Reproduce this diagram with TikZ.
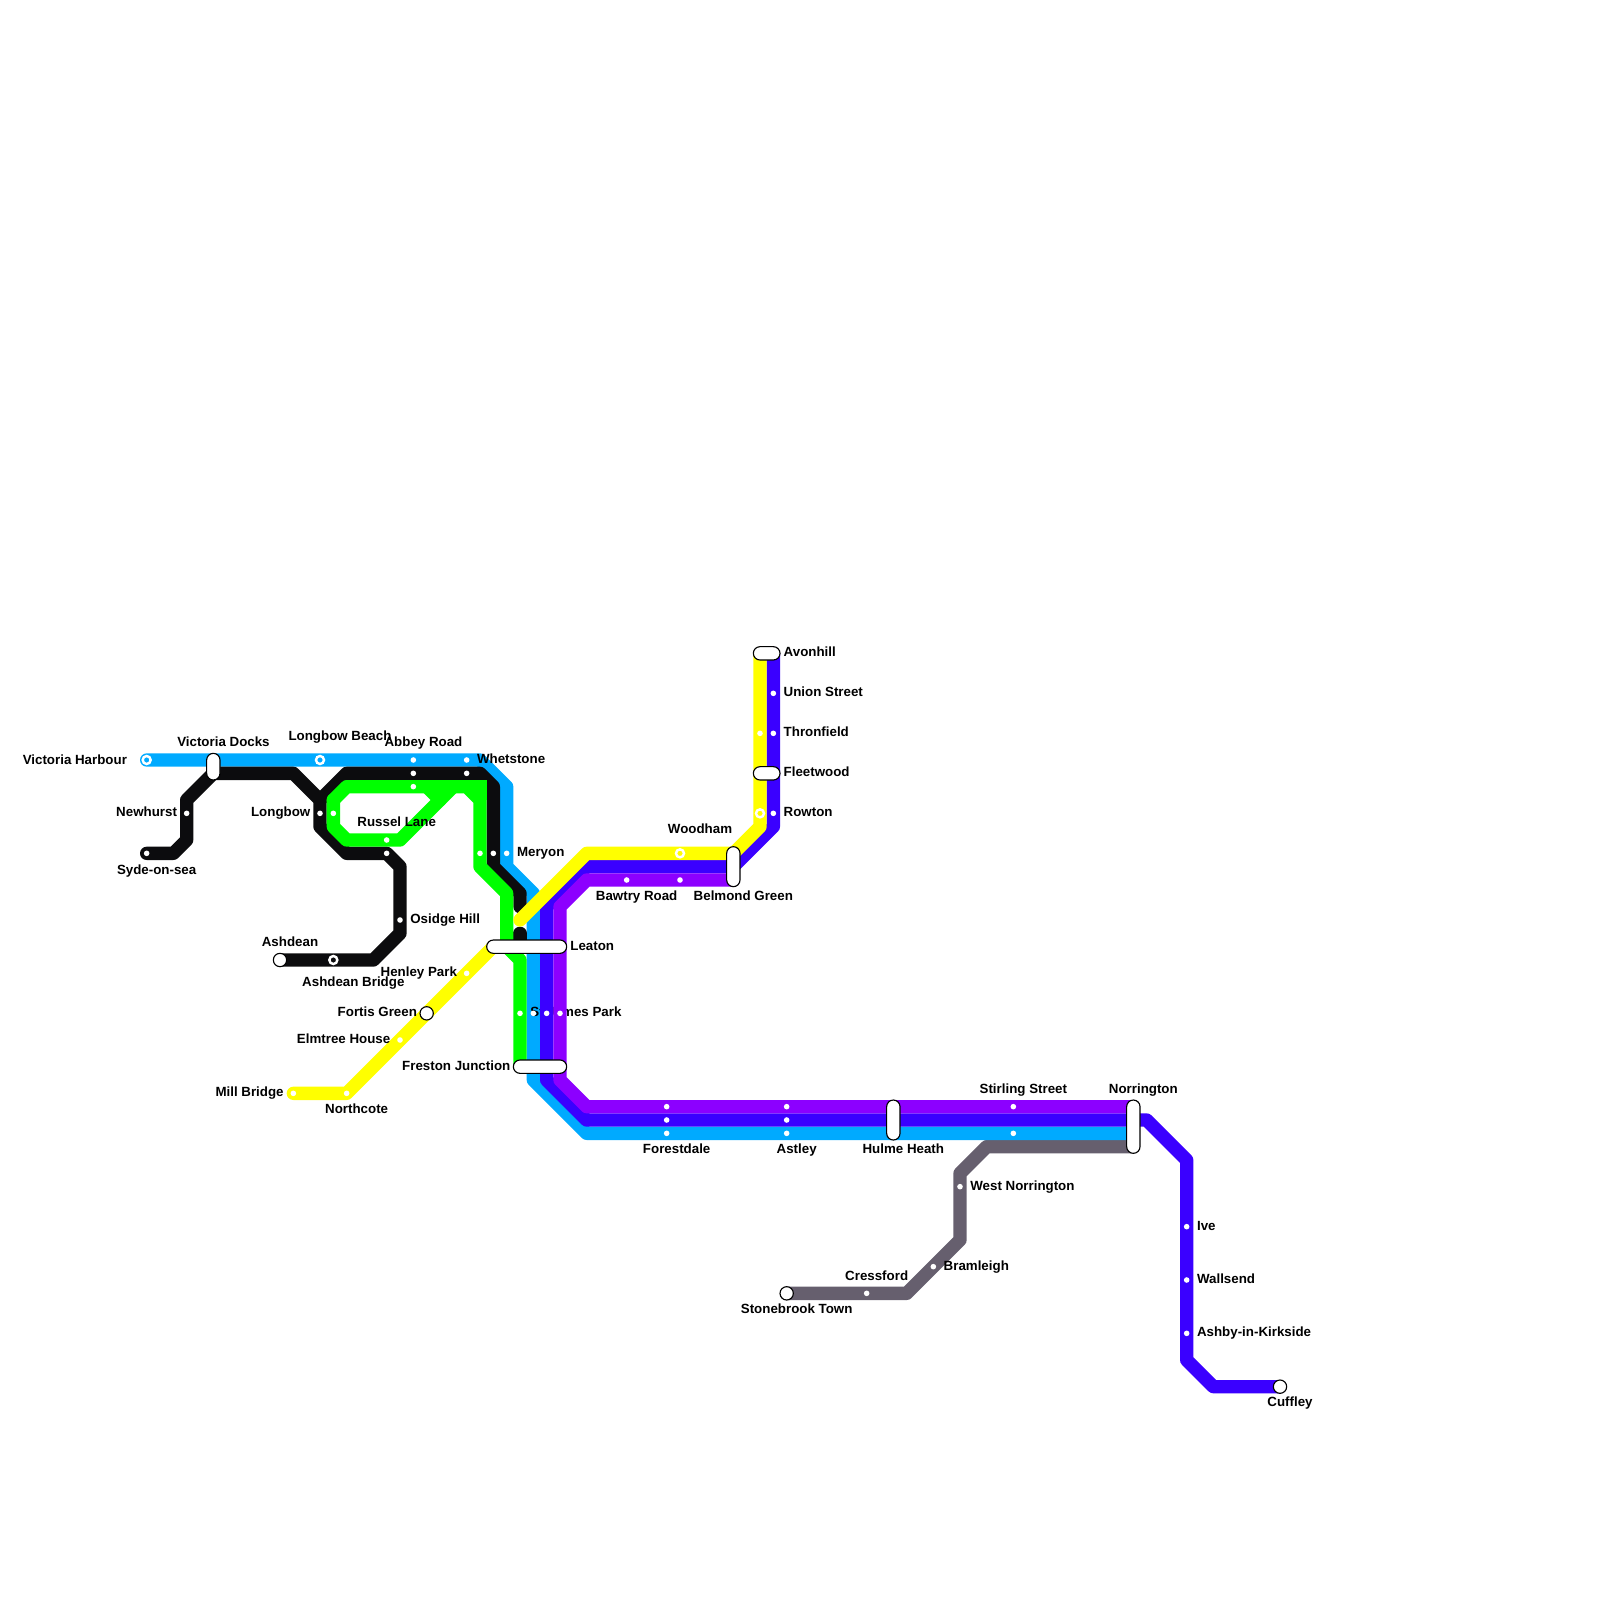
\documentclass[tikz,border=0pt]{standalone}
\usepackage{fontspec}
\setmainfont{Liberation Sans}
\usetikzlibrary{shapes.misc}
\definecolor{cyanLine}{HTML}{00AAFF}
\definecolor{indigoLine}{HTML}{3A00FF}
\definecolor{purpleLine}{HTML}{8C00FF}
\definecolor{greenLine}{HTML}{00FF00}
\definecolor{yellowLine}{HTML}{FFFF00}
\definecolor{blackLine}{HTML}{0C0C0E}
\definecolor{greyLine}{HTML}{665F6E}
\begin{document}
\begin{tikzpicture}[
    x=0.25cm, y=-0.25cm,
    metroLine/.style={line width=0.25cm, line join=round, line cap=round},
    stnDot/.style={circle, fill=white, inner sep=0pt, minimum size=0.105cm},
    stnRing/.style={circle, draw=white, line width=1.3pt, inner sep=0pt, outer sep=0pt, minimum size=0.15cm},
    stnEnd/.style={circle, draw=black, fill=white, line width=0.6pt, inner sep=0pt, outer sep=0pt, minimum size=0.25cm},
    stnCapsule/.style={rounded rectangle, draw=black, fill=white, line width=0.6pt, inner sep=0pt, outer sep=0pt, minimum height=0.25cm},
    stnName/.style={font=\fontsize{7.11pt}{8.5pt}\selectfont\bfseries, text=black, inner sep=0pt},
    nameLeft/.style={stnName, anchor=base east},
    nameRight/.style={stnName, anchor=base west},
    nameMid/.style={stnName, anchor=base},
]
\useasboundingbox (0,0) rectangle (120,120);
% Line ends and junctions
\coordinate (victoriaHarbour) at (11,57);
\coordinate (sydeOnSea) at (11,64);
\coordinate (ashdean) at (21,72);
\coordinate (longbowFork) at (24,60);
\coordinate (greenFork) at (25,60);
\coordinate (greenMeet) at (34,59);
\coordinate (greenKnee) at (33,60);
\coordinate (millBridge) at (22,82);
\coordinate (leatonWest) at (37,71);
\coordinate (blackStub) at (39,70);
\coordinate (blackStop) at (39,68);
\coordinate (yellowStop) at (39,69);
\coordinate (frestonWest) at (39,80);
\coordinate (stonebrook) at (59,97);
\coordinate (avonhill) at (57,49);
\coordinate (avonhillEast) at (58,49);
\coordinate (cuffley) at (96,104);
\coordinate (norrington) at (85,86);
\coordinate (purpleEnd) at (55,66);

% Lines
\draw[metroLine, greyLine] (stonebrook) -- (68,97) -- (72,93) -- (72,88) -- (74,86) -- (norrington);
\draw[metroLine, cyanLine] (victoriaHarbour) -- (36,57) -- (38,59) -- (38,65) -- (40,67) -- (40,81) -- (44,85) -- (85,85);
\node[nameRight] (stJamesPark) at (39.75,76.25) {St James Park};
\draw[metroLine, indigoLine] (avonhillEast) -- (58,62) -- (55,65) -- (44,65) -- (41,68) -- (41,81) -- (44,84) -- (86,84) -- (89,87) -- (89,102) -- (91,104) -- (cuffley);
\draw[metroLine, purpleLine] (purpleEnd) -- (44,66) -- (42,68) -- (42,81) -- (44,83) -- (85,83);
\draw[metroLine, blackLine] (sydeOnSea) -- (13,64) -- (14,63) -- (14,60) -- (16,58) -- (22,58) -- (longbowFork) -- (24,62) -- (26,64) -- (29,64) -- (30,65) -- (30,70) -- (28,72) -- (ashdean);
\draw[metroLine, blackLine] (longbowFork) -- (26,58) -- (36,58) -- (37,59) -- (37,65) -- (39,67) -- (blackStop);
\draw[metroLine, blackLine] (blackStub) -- (39,71);
\draw[metroLine, greenLine] (greenFork) -- (26,59) -- (35,59) -- (36,60) -- (36,65) -- (38,67) -- (38,71) -- (39,72) -- (frestonWest);
\draw[greenLine, line width=0.25cm] (35,59) -- (36,59) -- (36,60);
\draw[metroLine, greenLine] (greenFork) -- (25,62) -- (26,63) -- (30,63) -- (greenMeet);
\draw[metroLine, greenLine] (32,59) -- (greenKnee);
\draw[metroLine, yellowLine] (avonhill) -- (57,62) -- (55,64) -- (44,64) -- (yellowStop);
\draw[metroLine, yellowLine] (leatonWest) -- (26,82) -- (millBridge);

% Stops
\node[stnRing] (harbourRing) at (victoriaHarbour) {};
\node[stnRing] (beachRing) at (24,57) {};
\node[stnDot] (abbeyCyan) at (31,57) {};
\node[stnDot] (abbeyBlack) at (31,58) {};
\node[stnDot] (abbeyGreen) at (31,59) {};
\node[stnDot] (whetstoneCyan) at (35,57) {};
\node[stnDot] (whetstoneBlack) at (35,58) {};
\node[stnDot] (newhurstDot) at (14,61) {};
\node[stnDot] (sydeDot) at (sydeOnSea) {};
\node[stnDot] (longbowBlack) at (24,61) {};
\node[stnDot] (longbowGreen) at (25,61) {};
\node[stnDot] (russelGreen) at (29,63) {};
\node[stnDot] (russelBlack) at (29,64) {};
\node[stnDot] (meryonGreen) at (36,64) {};
\node[stnDot] (meryonBlack) at (37,64) {};
\node[stnDot] (meryonCyan) at (38,64) {};
\node[stnDot] (osidgeDot) at (30,69) {};
\node[stnRing] (bridgeRing) at (25,72) {};
\node[stnDot] (henleyDot) at (35,73) {};
\node[stnDot] (elmtreeDot) at (30,78) {};
\node[stnDot] (northcoteDot) at (26,82) {};
\node[stnDot] (millDot) at (millBridge) {};
\node[stnDot] (jamesGreen) at (39,76) {};
\node[stnDot] (jamesCyan) at (40,76) {};
\node[stnDot] (jamesIndigo) at (41,76) {};
\node[stnDot] (jamesPurple) at (42,76) {};
\node[stnDot] (bawtryDot) at (47,66) {};
\node[stnDot] (belmondDot) at (51,66) {};
\node[stnRing] (woodhamRing) at (51,64) {};
\node[stnDot] (unionDot) at (58,52) {};
\node[stnDot] (thronYellow) at (57,55) {};
\node[stnDot] (thronIndigo) at (58,55) {};
\node[stnRing] (rowtonRing) at (57,61) {};
\node[stnDot] (rowtonDot) at (58,61) {};
\node[stnDot] (forestPurple) at (50,83) {};
\node[stnDot] (forestIndigo) at (50,84) {};
\node[stnDot] (forestCyan) at (50,85) {};
\node[stnDot] (astleyPurple) at (59,83) {};
\node[stnDot] (astleyIndigo) at (59,84) {};
\node[stnDot] (astleyCyan) at (59,85) {};
\node[stnDot] (stirlingPurple) at (76,83) {};
\node[stnDot] (stirlingCyan) at (76,85) {};
\node[stnDot] (westNorrDot) at (72,89) {};
\node[stnDot] (bramleighDot) at (70,95) {};
\node[stnDot] (cressfordDot) at (65,97) {};
\node[stnDot] (iveDot) at (89,92) {};
\node[stnDot] (wallsendDot) at (89,96) {};
\node[stnDot] (ashbyDot) at (89,100) {};

% Interchanges
\node[stnEnd] (ashdeanEnd) at (ashdean) {};
\node[stnEnd] (fortisEnd) at (32,76) {};
\node[stnEnd] (stonebrookEnd) at (stonebrook) {};
\node[stnEnd] (cuffleyEnd) at (cuffley) {};
\node[stnCapsule, minimum width=0.5cm, rotate=90] (docksCap) at (16,57.5) {};
\node[stnCapsule, minimum width=1.5cm] (leatonCap) at (39.5,71) {};
\node[stnCapsule, minimum width=1cm] (frestonCap) at (40.5,80) {};
\node[stnCapsule, minimum width=0.5cm] (avonhillCap) at (57.5,49) {};
\node[stnCapsule, minimum width=0.5cm] (fleetwoodCap) at (57.5,58) {};
\node[stnCapsule, minimum width=0.75cm, rotate=90] (belmondCap) at (55,65) {};
\node[stnCapsule, minimum width=0.75cm, rotate=90] (hulmeCap) at (67,84) {};
\node[stnCapsule, minimum width=1cm, rotate=90] (norringtonCap) at (85,84.5) {};

% Names
\node[nameLeft] (harbourName) at (9.55,57.3) {Victoria Harbour};
\node[nameLeft] (newhurstName) at (13.3,61.25) {Newhurst};
\node[nameLeft] (longbowName) at (23.3,61.25) {Longbow};
\node[nameLeft] (henleyName) at (34.3,73.25) {Henley Park};
\node[nameLeft] (fortisName) at (31.3,76.25) {Fortis Green};
\node[nameLeft] (elmtreeName) at (29.3,78.25) {Elmtree House};
\node[nameLeft] (millName) at (21.3,82.25) {Mill Bridge};
\node[nameLeft] (frestonName) at (38.3,80.25) {Freston Junction};

\node[nameRight] (avonhillName) at (58.75,49.25) {Avonhill};
\node[nameRight] (unionName) at (58.75,52.25) {Union Street};
\node[nameRight] (thronName) at (58.75,55.25) {Thronfield};
\node[nameRight] (fleetwoodName) at (58.75,58.25) {Fleetwood};
\node[nameRight] (rowtonName) at (58.75,61.25) {Rowton};
\node[nameRight] (whetstoneName) at (35.75,57.25) {Whetstone};
\node[nameRight] (meryonName) at (38.75,64.25) {Meryon};
\node[nameRight] (osidgeName) at (30.75,69.25) {Osidge Hill};
\node[nameRight] (leatonName) at (42.75,71.25) {Leaton};
\node[nameRight] (westNorrName) at (72.75,89.25) {West Norrington};
\node[nameRight] (bramleighName) at (70.75,95.25) {Bramleigh};
\node[nameRight] (iveName) at (89.75,92.25) {Ive};
\node[nameRight] (wallsendName) at (89.75,96.25) {Wallsend};
\node[nameRight] (ashbyName) at (89.75,100.25) {Ashby-in-Kirkside};

\node[nameMid] (docksName) at (16.76,56) {Victoria Docks};
\node[nameMid] (beachName) at (25.5,55.5) {Longbow Beach};
\node[nameMid] (abbeyName) at (31.76,56) {Abbey Road};
\node[nameMid] (russelName) at (29.75,62) {Russel Lane};
\node[nameMid] (sydeName) at (11.75,65.55) {Syde-on-sea};
\node[nameMid] (ashdeanName) at (21.75,71) {Ashdean};
\node[nameMid] (bridgeName) at (26.5,74) {Ashdean Bridge};
\node[nameMid] (woodhamName) at (52.5,62.5) {Woodham};
\node[nameMid] (bawtryName) at (47.75,67.5) {Bawtry Road};
\node[nameMid] (belmondName) at (55.75,67.5) {Belmond Green};
\node[nameMid] (northcoteName) at (26.75,83.5) {Northcote};
\node[nameMid] (forestName) at (50.75,86.5) {Forestdale};
\node[nameMid] (astleyName) at (59.75,86.5) {Astley};
\node[nameMid] (hulmeName) at (67.75,86.5) {Hulme Heath};
\node[nameMid] (stirlingName) at (76.75,82) {Stirling Street};
\node[nameMid] (norringtonName) at (85.75,82) {Norrington};
\node[nameMid] (cressfordName) at (65.75,96) {Cressford};
\node[nameMid] (stonebrookName) at (59.75,98.5) {Stonebrook Town};
\node[nameMid] (cuffleyName) at (96.75,105.5) {Cuffley};
\end{tikzpicture}
\end{document}
